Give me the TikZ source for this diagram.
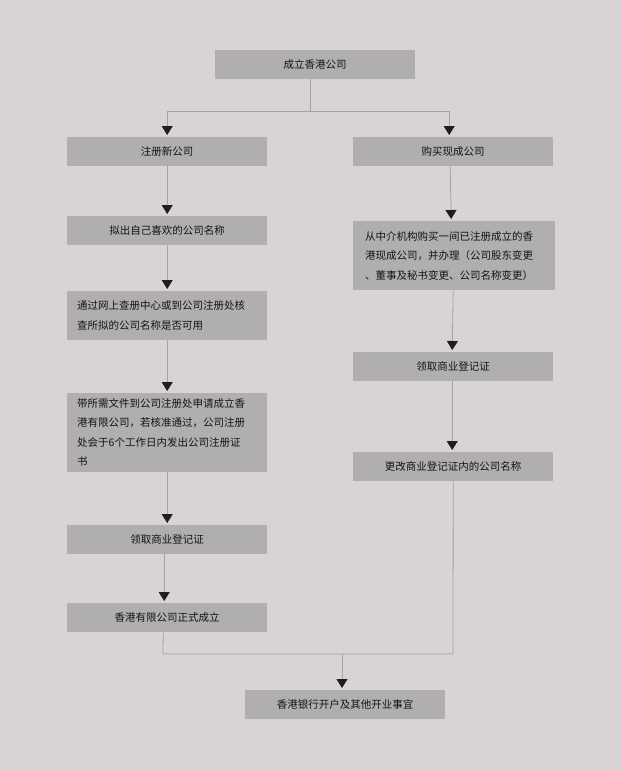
\documentclass[tikz,border=0pt]{standalone}
\usepackage{fontspec}
\setmainfont{Noto Sans CJK SC}
\usetikzlibrary{arrows.meta}
\definecolor{bg}{HTML}{D8D4D5}
\definecolor{boxfill}{HTML}{B0AEAF}
\definecolor{linegray}{HTML}{A4A2A3}
\definecolor{tipdark}{HTML}{1E1E1E}
\definecolor{txt}{HTML}{141414}
\begin{document}
\begin{tikzpicture}[x=1pt,y=-1pt,
  box/.style={fill=boxfill, draw=none, minimum width=200pt, minimum height=29pt,
    inner sep=0pt, font=\fontsize{10.5}{19.5}\selectfont, text=txt, anchor=north west},
  multibox/.style={box, text width=180pt, inner xsep=10pt, align=left},
  line/.style={draw=linegray, line width=0.8pt},
  conn/.style={line, -{Triangle[length=9pt,width=11pt,color=tipdark]}, shorten >=2pt}
]
\fill[bg] (0,0) rectangle (621,769);
\useasboundingbox (0,0) rectangle (621,769);

\node[box] (top) at (215,50) {成立香港公司};

% left column
\node[box] (reg) at (67,137) {注册新公司};
\node[box] (name) at (67,216) {拟出自己喜欢的公司名称};
\node[multibox, minimum height=49pt] (check) at (67,291) {通过网上查册中心或到公司注册处核\\查所拟的公司名称是否可用};
\node[multibox, minimum height=79pt] (apply) at (67,393) {带所需文件到公司注册处申请成立香\\港有限公司，若核准通过，公司注册\\处会于6个工作日内发出公司注册证\\书};
\node[box] (lbr) at (67,525) {领取商业登记证};
\node[box] (est) at (67,603) {香港有限公司正式成立};

% right column
\node[box] (buy) at (353,137) {购买现成公司};
\node[multibox, minimum height=69pt, inner xsep=12pt, text width=178pt] (agent) at (353,221) {从中介机构购买一间已注册成立的香\\港现成公司，并办理（公司股东变更\\、董事及秘书变更、公司名称变更）};
\node[box] (rbr) at (353,352) {领取商业登记证};
\node[box] (chg) at (353,452) {更改商业登记证内的公司名称};

\node[box] (final) at (245,690) {香港银行开户及其他开业事宜};

% connectors
\coordinate (jt) at (310,111);
\draw[line] (top.south -| jt) -- (jt);
\draw[conn] (jt) -| (reg.north);
\draw[conn] (jt) -| ([xshift=-4pt]buy.north);

\draw[conn] (reg) -- (name);
\draw[conn] (name) -- (check);
\draw[conn] (check) -- (apply);
\draw[conn] (apply) -- (lbr);
\draw[conn] ([xshift=-3pt]lbr.south) -- ([xshift=-3pt]est.north);

\draw[conn] ([xshift=-3pt]buy.south) -- ([xshift=-3pt]agent.north);
\draw[conn] ([xshift=-1pt]agent.south) -- ([xshift=-1pt]rbr.north);
\draw[conn] ([xshift=-1pt]rbr.south) -- ([xshift=-1pt]chg.north);

\coordinate (jl) at (163,654);
\coordinate (jr) at (453,654);
\coordinate (jm) at (342,654);
\draw[line] ([xshift=-4pt]est.south) -- (jl) -- (jr) -- (chg.south);
\draw[conn] (jm) -- (final.north -| jm);
\end{tikzpicture}
\end{document}
